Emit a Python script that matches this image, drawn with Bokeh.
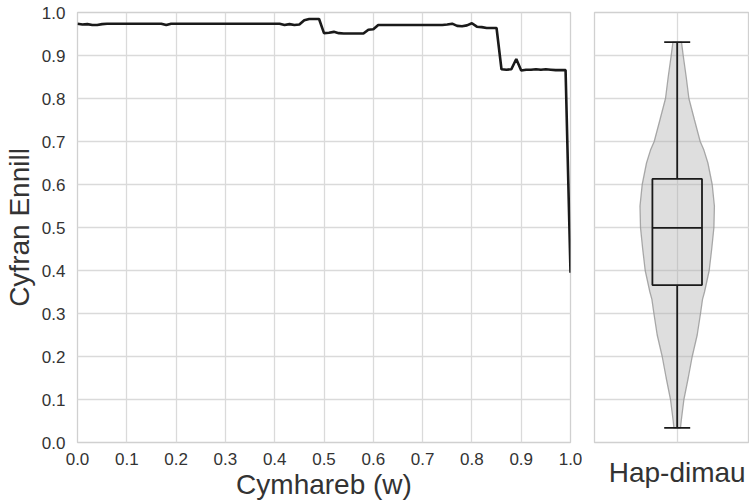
import numpy as np
from bokeh.plotting import figure
from bokeh.layouts import row
from bokeh.models import Range1d, FixedTicker
from bokeh.embed import file_html
from bokeh.resources import INLINE

# ---------------- data ----------------
ratio_w = [round(i * 0.01, 2) for i in range(101)]
gain = ([0.974, 0.972, 0.973, 0.971, 0.971, 0.973]
        + [0.974] * 12
        + [0.971]
        + [0.974] * 23
        + [0.971, 0.973, 0.971, 0.972, 0.982, 0.985, 0.985, 0.985]
        + [0.952, 0.953, 0.955, 0.952]
        + [0.951] * 5
        + [0.960, 0.961]
        + [0.971] * 14
        + [0.972, 0.974, 0.969, 0.968, 0.970, 0.975, 0.967, 0.966, 0.964, 0.964, 0.964]
        + [0.868, 0.867, 0.868, 0.892, 0.865, 0.867, 0.867, 0.868, 0.867, 0.868, 0.867, 0.866, 0.866, 0.866]
        + [0.395])

tick_values = [0.0, 0.1, 0.2, 0.3, 0.4, 0.5, 0.6, 0.7, 0.8, 0.9, 1.0]
tick_labels = ["0.0", "0.1", "0.2", "0.3", "0.4", "0.5", "0.6", "0.7", "0.8", "0.9", "1.0"]

# distribution of random baseline (violin + box)
violin_levels = [0.034, 0.05, 0.10, 0.15, 0.20, 0.25, 0.30, 0.333, 0.35, 0.40, 0.45, 0.50,
                 0.55, 0.60, 0.65, 0.68, 0.70, 0.75, 0.80, 0.85, 0.90, 0.931]
violin_halfwidth = [0.033, 0.04, 0.067, 0.11, 0.15, 0.20, 0.233, 0.253, 0.273, 0.32, 0.345, 0.367,
                    0.372, 0.35, 0.307, 0.267, 0.23, 0.173, 0.117, 0.09, 0.06, 0.043]
whisker_low, box_q1, box_median, box_q3, whisker_high = 0.034, 0.366, 0.499, 0.613, 0.931
category_label = "Hap-dimau"
x_label = "Cymhareb (w)"
y_label = "Cyfran Ennill"

# ---------------- style ----------------
FONT = "Liberation Sans"
TXT = "#333333"
GRID = "#dadada"
SPINE = "#d0d0d0"
H = 502
TOP = 12
BOTTOM = 59

def style(p):
    p.background_fill_color = "white"
    p.border_fill_color = "white"
    p.outline_line_color = SPINE
    p.outline_line_width = 1.3
    for ax in p.axis:
        ax.axis_line_color = None
        ax.major_tick_line_color = None
        ax.minor_tick_line_color = None
        ax.major_label_text_font = FONT
        ax.major_label_text_color = TXT
        ax.axis_label_text_font = FONT
        ax.axis_label_text_font_size = "28px"
        ax.axis_label_text_font_style = "normal"
        ax.axis_label_text_color = TXT
    for g in p.grid:
        g.grid_line_color = GRID
        g.grid_line_width = 1.3

# ---------------- left: line chart ----------------
p1 = figure(width=582, height=H, output_backend="svg", toolbar_location=None,
            x_range=Range1d(0, 1), y_range=Range1d(0, 1),
            min_border_left=77, min_border_right=12, min_border_top=TOP, min_border_bottom=BOTTOM)
style(p1)
p1.xaxis.ticker = FixedTicker(ticks=tick_values)
p1.yaxis.ticker = FixedTicker(ticks=tick_values)
p1.xaxis.major_label_overrides = dict(zip(tick_values, tick_labels))
p1.yaxis.major_label_overrides = dict(zip(tick_values, tick_labels))
p1.xaxis.major_label_text_font_size = "17px"
p1.yaxis.major_label_text_font_size = "17px"
p1.xaxis.major_label_standoff = 4
p1.yaxis.major_label_standoff = 6
p1.xaxis.axis_label = x_label
p1.xaxis.axis_label_standoff = 1
p1.yaxis.axis_label = y_label
p1.yaxis.axis_label_standoff = 4

p1.line(ratio_w, gain, line_color="#1a1a1a", line_width=2.6)

# ---------------- right: violin + box ----------------
p2 = figure(width=167, height=H, output_backend="svg", toolbar_location=None,
            x_range=Range1d(-0.827, 0.723), y_range=Range1d(0, 1),
            min_border_left=12, min_border_right=0, min_border_top=TOP, min_border_bottom=BOTTOM)
style(p2)
p2.yaxis.visible = False
p2.ygrid.ticker = FixedTicker(ticks=tick_values)
p2.xgrid.ticker = FixedTicker(ticks=[0])
p2.xaxis.ticker = FixedTicker(ticks=[0])
p2.xaxis.major_label_overrides = {0: category_label}
p2.xaxis.major_label_text_font_size = "28px"
p2.xaxis.major_label_standoff = 8

lv = np.array(violin_levels)
hw = np.array(violin_halfwidth)
vx = np.concatenate([hw, -hw[::-1]])
vy = np.concatenate([lv, lv[::-1]])
p2.patch(vx, vy, fill_color="#b0b0b0", fill_alpha=0.42, line_color="#9a9a9a", line_alpha=0.85, line_width=1.3)

bw = 0.248
cw = 0.13
p2.segment(x0=[0, 0], y0=[box_q3, box_q1], x1=[0, 0], y1=[whisker_high, whisker_low],
           line_color="#1a1a1a", line_width=1.8)
p2.segment(x0=[-cw, -cw], y0=[whisker_high, whisker_low], x1=[cw, cw], y1=[whisker_high, whisker_low],
           line_color="#1a1a1a", line_width=1.8)
p2.quad(left=[-bw], right=[bw], bottom=[box_q1], top=[box_q3], fill_color=None,
        line_color="#1a1a1a", line_width=1.8)
p2.segment(x0=[-bw], y0=[box_median], x1=[bw], y1=[box_median], line_color="#1a1a1a", line_width=1.8)

layout = row(p1, p2)
open("out.html", "w").write(file_html(layout, INLINE))
